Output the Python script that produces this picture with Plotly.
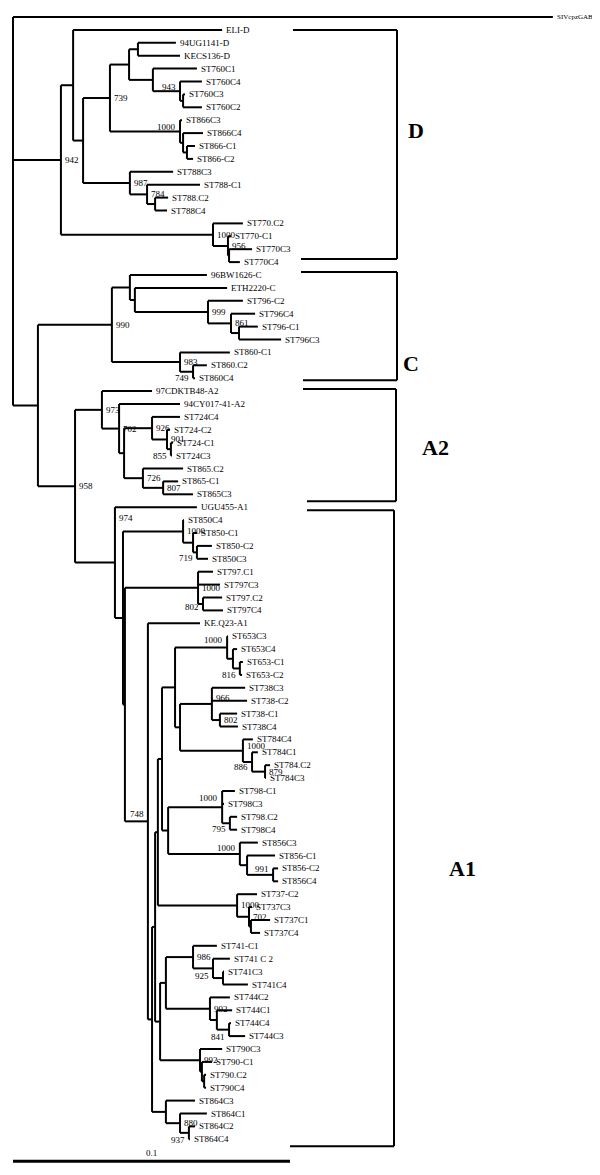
import plotly.graph_objects as go

# ---------------- data ----------------
leaf_names = ["SIVcpzGAB","ELI-D","94UG1141-D","KECS136-D","ST760C1","ST760C4","ST760C3","ST760C2",
    "ST866C3","ST866C4","ST866-C1","ST866-C2","ST788C3","ST788-C1","ST788.C2","ST788C4",
    "ST770.C2","ST770-C1","ST770C3","ST770C4","96BW1626-C","ETH2220-C","ST796-C2","ST796C4",
    "ST796-C1","ST796C3","ST860-C1","ST860.C2","ST860C4","97CDKTB48-A2","94CY017-41-A2","ST724C4",
    "ST724-C2","ST724-C1","ST724C3","ST865.C2","ST865-C1","ST865C3","UGU455-A1","ST850C4",
    "ST850-C1","ST850-C2","ST850C3","ST797.C1","ST797C3","ST797.C2","ST797C4","KE.Q23-A1",
    "ST653C3","ST653C4","ST653-C1","ST653-C2","ST738C3","ST738-C2","ST738-C1","ST738C4",
    "ST784C4","ST784C1","ST784.C2","ST784C3","ST798-C1","ST798C3","ST798.C2","ST798C4",
    "ST856C3","ST856-C1","ST856-C2","ST856C4","ST737-C2","ST737C3","ST737C1","ST737C4",
    "ST741-C1","ST741 C 2","ST741C3","ST741C4","ST744C2","ST744C1","ST744C4","ST744C3",
    "ST790C3","ST790-C1","ST790.C2","ST790C4","ST864C3","ST864C1","ST864C2","ST864C4"]

leaf_parent = ["root","nD1","nDb","nDb","n760","n943","n760c","n760c","n866","n866e","n866f","n866f",
    "n987","n784","n788g","n788g","n770","n956","n770h","n770h","nC1","nC2","n999","n861",
    "n796i","n796i","n983","n749","n749","n973","n702","n926","n901","n855","n855","n726",
    "n807","n807","n974","n850","n850a","n719","n719","n797","n797","n802a","n802a","n748",
    "n653","n653l","n816","n816","n966","n966","n802b","n802b","n784b","n886","n879","n879",
    "n798","n798","n795","n795","n856","n856a","n991","n991","n737","n737a","n737b","n737b",
    "n741","n925","n741o","n741o","n744","n744p","n841","n841","n790","n790q","n790r","n790r",
    "n864","n864s","n880","n880"]

# distance from root (substitutions per site)
leaf_depth = [0.1949,0.0755,0.0588,0.0603,0.0664,0.0682,0.0621,0.0682,
    0.0610,0.0686,0.0657,0.0650,0.0578,0.0675,0.0560,0.0556,
    0.0830,0.0787,0.0863,0.0819,0.0700,0.0773,0.0830,0.0874,
    0.0884,0.0968,0.0783,0.0700,0.0657,0.0502,0.0603,0.0603,
    0.0567,0.0578,0.0574,0.0614,0.0596,0.0650,0.0664,0.0617,
    0.0664,0.0718,0.0704,0.0722,0.0747,0.0755,0.0758,0.0675,
    0.0776,0.0809,0.0830,0.0827,0.0838,0.0845,0.0809,0.0812,
    0.0866,0.0884,0.0928,0.0913,0.0801,0.0762,0.0809,0.0809,
    0.0884,0.0946,0.0957,0.0957,0.0881,0.0863,0.0928,0.0892,
    0.0736,0.0783,0.0762,0.0848,0.0783,0.0791,0.0787,0.0838,
    0.0755,0.0718,0.0697,0.0697,0.0657,0.0700,0.0657,0.0639]

inner_ids = ["root","nD","nD1","nD2","n739","nDa","nDb","n760","n943","n760c","n866","n866e","n866f",
    "n987","n784","n788g","n770","n956","n770h","nIn","nC","nC1","nC2","n999","n861","n796i",
    "n983","n749","n958","n973","n702","nA2j","n926","n901","n855","n726","n807","n974","nK1",
    "n850","n850a","n719","nK2","n797","n802a","n748","nT","n155","n158","n162","n175","n653",
    "n653l","n816","n180","n966","n802b","n784b","n886","n879","n168","n798","n795","n856",
    "n856a","n991","n737","n737a","n737b","nV","nW","n741","n925","n741o","n744","n744p","n841",
    "n790","n790q","n790r","n864","n864s","n880"]

inner_parent = [None,"root","nD","nD1","nD2","n739","nDa","nDa","n760","n943","n739","n866","n866e",
    "nD2","n987","n784","nD","n770","n956","root","nIn","nC","nC1","nC2","n999","n861",
    "nC","n983","nIn","n958","n973","n702","nA2j","n926","n901","nA2j","n726","n958","n974",
    "nK1","n850","n850a","nK1","nK2","n797","nK2","n748","nT","n155","n158","n162","n175",
    "n653","n653l","n175","n180","n966","n180","n784b","n886","n162","n168","n798","n168",
    "n856","n856a","n158","n737","n737a","n155","nV","nW","n741","n925","nW","n744","n744p",
    "nV","n790","n790q","nT","n864","n864s"]

inner_depth = [0.0,0.0173,0.0217,0.0253,0.0350,0.0419,0.0451,0.0505,0.0603,0.0614,0.0603,0.0614,0.0628,
    0.0422,0.0484,0.0513,0.0722,0.0776,0.0780,0.0090,0.0357,0.0422,0.0440,0.0704,0.0787,0.0816,
    0.0603,0.0650,0.0224,0.0321,0.0383,0.0401,0.0502,0.0556,0.0570,0.0469,0.0542,0.0368,0.0397,
    0.0614,0.0650,0.0664,0.0404,0.0668,0.0686,0.0487,0.0502,0.0513,0.0523,0.0538,0.0585,0.0773,
    0.0794,0.0819,0.0603,0.0718,0.0747,0.0830,0.0863,0.0910,0.0560,0.0755,0.0783,0.0819,
    0.0845,0.0939,0.0809,0.0852,0.0859,0.0531,0.0552,0.0650,0.0722,0.0758,0.0711,0.0736,0.0780,
    0.0675,0.0682,0.0690,0.0552,0.0603,0.0635]

inner_support = [None,942,None,None,739,None,None,None,943,None,1000,None,None,
    987,784,None,1000,956,None,None,990,None,None,999,861,None,
    983,749,958,973,702,None,926,901,855,726,807,974,None,
    1000,None,719,None,1000,802,748,None,None,None,None,None,1000,
    None,816,None,966,802,1000,886,879,None,1000,795,1000,
    None,991,1000,702,None,None,None,986,925,None,992,None,841,
    992,None,None,None,880,937]

clade_names = ["D", "C", "A2", "A1"]
clade_first = ["ELI-D", "96BW1626-C", "97CDKTB48-A2", "UGU455-A1"]
clade_last = ["ST770C4", "ST860C4", "ST865C3", "ST864C4"]

scale_length = 0.1
scale_label = "0.1"

# ---------------- style ----------------
PAGE_OFF = 8               # default body margin of the html page
PX_PER_UNIT = 2770.0       # horizontal pixels per substitution unit
ROW_PX = 12.9              # vertical pixels per leaf row
TOP_PX = 17.0 - PAGE_OFF
LEFT_PX = 13.0 - PAGE_OFF
W, H = 600 - PAGE_OFF, 1175 - PAGE_OFF
FONT = "Liberation Serif"
LBL_SIZE = 9

# bootstrap label placement: side ('l'/'r') and vertical pixel shift
support_style = {
    "n974": ("r", -45), "n966": ("r", -6), "n784b": ("r", -5),
    "n943": ("l", -4), "n866": ("l", -4), "n749": ("l", 6), "n855": ("l", 6.5),
    "n719": ("l", 6), "n802a": ("l", 3.5), "n653": ("l", -7), "n816": ("l", 6.5),
    "n886": ("l", 5.5), "n748": ("l", -7), "n798": ("l", -9), "n795": ("l", 5.5),
    "n856": ("l", -6), "n991": ("l", -5.5), "n925": ("l", 7.5), "n841": ("l", 7.5),
    "n880": ("l", 7.5),
}
# bracket geometry (page pixels)
bracket_vx = [397, 397, 396, 394]
bracket_top_left = [293, 301, 303, 307]
bracket_bot_left = [301, 303, 307, 290]
bracket_pad = [(0, -3), (-3, 2), (-2, 7), (3, 7)]
bracket_label_shift = [(19, -14.5), (14, 37), (39, 2.5), (68, 40)]

# ---------------- build tree ----------------
depth, parent = {}, {}
for n, p, d in zip(leaf_names, leaf_parent, leaf_depth):
    depth[n] = d; parent[n] = p
for n, p, d in zip(inner_ids, inner_parent, inner_depth):
    depth[n] = d; parent[n] = p
children = {}
for n, p in parent.items():
    if p is not None:
        children.setdefault(p, []).append(n)

ypos = {n: i for i, n in enumerate(leaf_names)}

def gety(n):
    if n in ypos:
        return ypos[n]
    ys = [gety(c) for c in children[n]]
    ypos[n] = (min(ys) + max(ys)) / 2.0
    return ypos[n]

gety("root")

xs, ys = [], []
for n, p in parent.items():
    if p is None:
        continue
    xs += [depth[p], depth[n], None]
    ys += [ypos[n], ypos[n], None]
for n in inner_ids:
    cy = [ypos[c] for c in children[n]]
    xs += [depth[n], depth[n], None]
    ys += [min(cy), max(cy), None]

fig = go.Figure()
fig.add_trace(go.Scatter(x=xs, y=ys, mode="lines",
                         line=dict(color="black", width=2), hoverinfo="skip",
                         showlegend=False))

ann = []
for n in leaf_names:
    ann.append(dict(x=depth[n], y=ypos[n], text=n, showarrow=False,
                    xanchor="left", yanchor="middle", xshift=2,
                    font=dict(family=FONT, size=7 if n == "SIVcpzGAB" else LBL_SIZE, color="black")))

for n, s in zip(inner_ids, inner_support):
    if s is None:
        continue
    side, dy = support_style.get(n, ("r", 0))
    ann.append(dict(x=depth[n], y=ypos[n], text=str(s), showarrow=False,
                    xanchor="left" if side == "r" else "right", yanchor="middle",
                    xshift=2 if side == "r" else -2, yshift=-dy,
                    font=dict(family=FONT, size=LBL_SIZE, color="black")))

def px_to_x(page_px):
    return (page_px - PAGE_OFF - LEFT_PX) / PX_PER_UNIT

shapes = []
for k, name in enumerate(clade_names):
    yt = ypos[clade_first[k]] + bracket_pad[k][0] / ROW_PX
    yb = ypos[clade_last[k]] + bracket_pad[k][1] / ROW_PX
    vx = px_to_x(bracket_vx[k])
    for (x0, y0, x1, y1) in [(px_to_x(bracket_top_left[k]), yt, vx, yt),
                             (vx, yt, vx, yb),
                             (px_to_x(bracket_bot_left[k]), yb, vx, yb)]:
        shapes.append(dict(type="line", xref="x", yref="y", x0=x0, y0=y0, x1=x1, y1=y1,
                           line=dict(color="black", width=2)))
    dx, dy = bracket_label_shift[k]
    ann.append(dict(x=vx, y=(yt + yb) / 2, text="<b>%s</b>" % name, showarrow=False,
                    xanchor="center", yanchor="middle", xshift=dx, yshift=-dy,
                    font=dict(family=FONT, size=22, color="black")))

# scale bar
sb_y = len(leaf_names) - 1 + 1.7
fig.add_trace(go.Scatter(x=[0, scale_length], y=[sb_y, sb_y], mode="lines",
                         line=dict(color="black", width=3), hoverinfo="skip", showlegend=False))
ann.append(dict(x=scale_length / 2, y=sb_y, text=scale_label, showarrow=False,
                xanchor="center", yanchor="bottom", yshift=1,
                font=dict(family=FONT, size=LBL_SIZE, color="black")))

y_top = -TOP_PX / ROW_PX
y_bot = (H - TOP_PX) / ROW_PX
fig.update_layout(
    width=W, height=H, margin=dict(l=0, r=0, t=0, b=0),
    paper_bgcolor="white", plot_bgcolor="white",
    xaxis=dict(range=[-LEFT_PX / PX_PER_UNIT, (W - LEFT_PX) / PX_PER_UNIT],
               visible=False, fixedrange=True),
    yaxis=dict(range=[y_bot, y_top], visible=False, fixedrange=True),
    annotations=ann, shapes=shapes, showlegend=False,
)
fig.write_html("out.html")
